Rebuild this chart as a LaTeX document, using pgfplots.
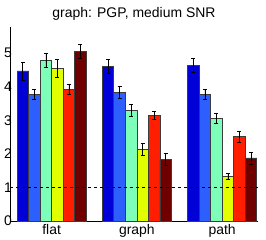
\documentclass[border=0pt]{standalone}
\usepackage{pgfplots}
\pgfplotsset{compat=1.18}
\usepackage{fontspec}
\setmainfont{Liberation Sans}
\definecolor{c1}{RGB}{0,0,215}
\definecolor{c2}{RGB}{45,95,255}
\definecolor{c3}{RGB}{125,255,185}
\definecolor{c4}{RGB}{225,255,0}
\definecolor{c5}{RGB}{255,30,0}
\definecolor{c6}{RGB}{112,0,0}
\definecolor{edge}{RGB}{60,60,60}
\begin{document}
\begin{tikzpicture}
\path[use as bounding box] (-10bp,-19bp) rectangle (256bp,221bp);
\begin{axis}[
  at={(0,0)}, anchor=origin,
  scale only axis, width=248bp, height=194bp,
  xmin=0.512, xmax=3.42, ymin=0, ymax=5.78,
  axis x line*=bottom, axis y line*=left,
  axis line style={black, line width=0.6pt},
  xtick={1,2,3}, xticklabels={flat,graph,path},
  ytick={0,1,2,3,4,5},
  major tick length=0pt,
  tick label style={font=\fontsize{14}{16}\selectfont},
  /pgf/number format/assume math mode=true,
  yticklabel style={xshift=3bp, inner sep=1bp},
  xticklabel style={yshift=0bp},
  title={graph: PGP, medium SNR},
  title style={font=\fontsize{14}{16}\selectfont, yshift=-3bp},
  ybar=0pt, bar width=0.1353,
  every axis plot/.append style={draw=edge, line width=0.8pt,
    error bars/y dir=both, error bars/y explicit,
    error bars/error bar style={black, line width=0.7pt},
    error bars/error mark options={black, line width=0.7pt, mark size=2bp, rotate=90}},
  clip=false,
]
\addplot[fill=c1] coordinates {(1,4.47) +- (0,0.27) (2,4.61) +- (0,0.20) (3,4.64) +- (0,0.20)};
\addplot[fill=c2] coordinates {(1,3.77) +- (0,0.15) (2,3.82) +- (0,0.18) (3,3.77) +- (0,0.16)};
\addplot[fill=c3] coordinates {(1,4.79) +- (0,0.21) (2,3.30) +- (0,0.18) (3,3.06) +- (0,0.14)};
\addplot[fill=c4] coordinates {(1,4.54) +- (0,0.27) (2,2.14) +- (0,0.18) (3,1.34) +- (0,0.09)};
\addplot[fill=c5] coordinates {(1,3.92) +- (0,0.15) (2,3.15) +- (0,0.12) (3,2.51) +- (0,0.17)};
\addplot[fill=c6] coordinates {(1,5.06) +- (0,0.21) (2,1.84) +- (0,0.17) (3,1.88) +- (0,0.18)};
\draw[black, line width=0.6pt, dash pattern=on 3bp off 3bp] (axis cs:0.512,1) -- (axis cs:3.42,1);
\end{axis}
\end{tikzpicture}
\end{document}
